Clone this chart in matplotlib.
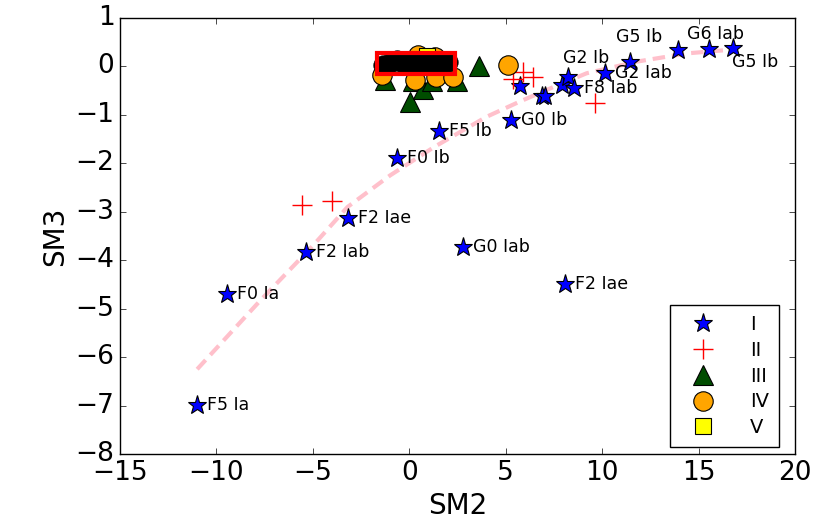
import numpy as np
import matplotlib
matplotlib.use('Agg')
import matplotlib.pyplot as plt
from matplotlib.patches import Rectangle

plt.style.use('classic')

# class I supergiants
star_x = [-11.0, -9.45, -5.36, -3.18, -0.64, 1.54, 5.25, 2.78, 8.07,
          5.74, 6.86, 7.05, 7.94, 8.24, 8.55, 10.14, 11.47, 13.94, 15.55, 16.80]
star_y = [-6.99, -4.70, -3.83, -3.13, -1.89, -1.33, -1.10, -3.73, -4.49,
          -0.40, -0.62, -0.60, -0.38, -0.21, -0.45, -0.14, 0.10, 0.33, 0.36, 0.38]
star_names = ['F5 Ia', 'F0 Ia', 'F2 Iab', 'F2 Iae', 'F0 Ib', 'F5 Ib', 'G0 Ib', 'G0 Iab', 'F2 Iae',
              '', '', '', '', 'G2 Ib', 'F8 Iab', 'G2 Iab', 'G5 Ib', 'G6 Iab', '', 'G5 Ib']

# class II
ii_x = [-5.55, -3.99, 5.39, 5.91, 6.43, 9.62]
ii_y = [-2.85, -2.77, -0.25, -0.11, -0.21, -0.76]

# class III
iii_x = [3.61, 0.03, -1.26, 0.19, 0.69, 1.16, 2.46]
iii_y = [0.01, -0.73, -0.28, -0.31, -0.47, -0.31, -0.31]

# class IV
iv_x = [5.13, -1.44, 0.29, 1.41, 2.28, 0.46, 1.33]
iv_y = [0.03, -0.18, -0.28, -0.21, -0.21, 0.24, 0.20]

# class V
v_x = [0.9]
v_y = [0.22]

# crowded points near the origin
crowd_x = [-1.37, -1.0, -0.64, -0.3, 0.0, 0.3, 0.6, 0.9, 1.2, 1.5, 1.75, 2.0]
crowd_y = [0.03, 0.08, 0.13, 0.05, 0.10, 0.04, 0.10, 0.06, 0.10, 0.05, 0.08, 0.09]

# trend through the supergiant sequence
trend_x = [-11.0, -7.7, -5.0, -3.2, -1.0, 1.3, 4.0, 5.7, 7.5, 9.2, 11.8, 14.4, 16.5]
trend_y = [-6.25, -4.82, -3.70, -2.90, -2.25, -1.66, -1.04, -0.73, -0.42, -0.14, 0.10, 0.27, 0.34]

box_x0, box_x1 = -1.7, 2.35
box_y0, box_y1 = -0.15, 0.28

# label offsets in pixels (default is just to the right)
label_offsets = {13: (-5, 19), 16: (-14, 25), 17: (9, 16), 19: (-1, -14)}

fig = plt.figure(figsize=(8.21, 5.24), dpi=100)
ax = fig.add_axes([0.1462, 0.1336, 0.8221, 0.832])

ax.plot(trend_x, trend_y, color='pink', lw=3, dashes=(9, 5), zorder=1)
ax.plot(star_x, star_y, '*', color='blue', mec='k', ms=14, mew=0.8, label='I')
ax.plot(ii_x, ii_y, '+', color='red', ms=14, mew=1, label='II')
ax.plot(iii_x, iii_y, '^', color='#004d00', mec='k', ms=15, mew=0.8, label='III')
ax.plot(iv_x, iv_y, 'o', color='orange', mec='k', ms=14, mew=0.8, label='IV')
ax.plot(v_x, v_y, 's', color='yellow', mec='k', ms=12, mew=0.8, label='V')
ax.plot(crowd_x, crowd_y, 'o', color='k', mec='k', ms=14)

ax.add_patch(Rectangle((box_x0, box_y0), box_x1 - box_x0, box_y1 - box_y0,
                       fill=False, ec='red', lw=3, zorder=5))

for i, name in enumerate(star_names):
    if not name:
        continue
    dx, dy = label_offsets.get(i, (10, 0))
    ax.annotate(name, (star_x[i], star_y[i]), xytext=(dx, dy), textcoords='offset pixels',
                va='center', ha='left', fontsize=12.5)

ax.set_xlim(-15, 20)
ax.set_ylim(-8, 1)
ax.set_xticks(np.arange(-15, 21, 5))
ax.set_yticks(np.arange(-8, 2, 1))
ax.tick_params(labelsize=19)
ax.set_xlabel('SM2', fontsize=20)
ax.set_ylabel('SM3', fontsize=20)

ax.legend(loc='lower right', bbox_to_anchor=(0.976, 0.016), borderaxespad=0,
          numpoints=1, fontsize=14, handlelength=2.4, handletextpad=1.2,
          borderpad=0.5, labelspacing=0.35)

fig.savefig('out.png', dpi=100)
